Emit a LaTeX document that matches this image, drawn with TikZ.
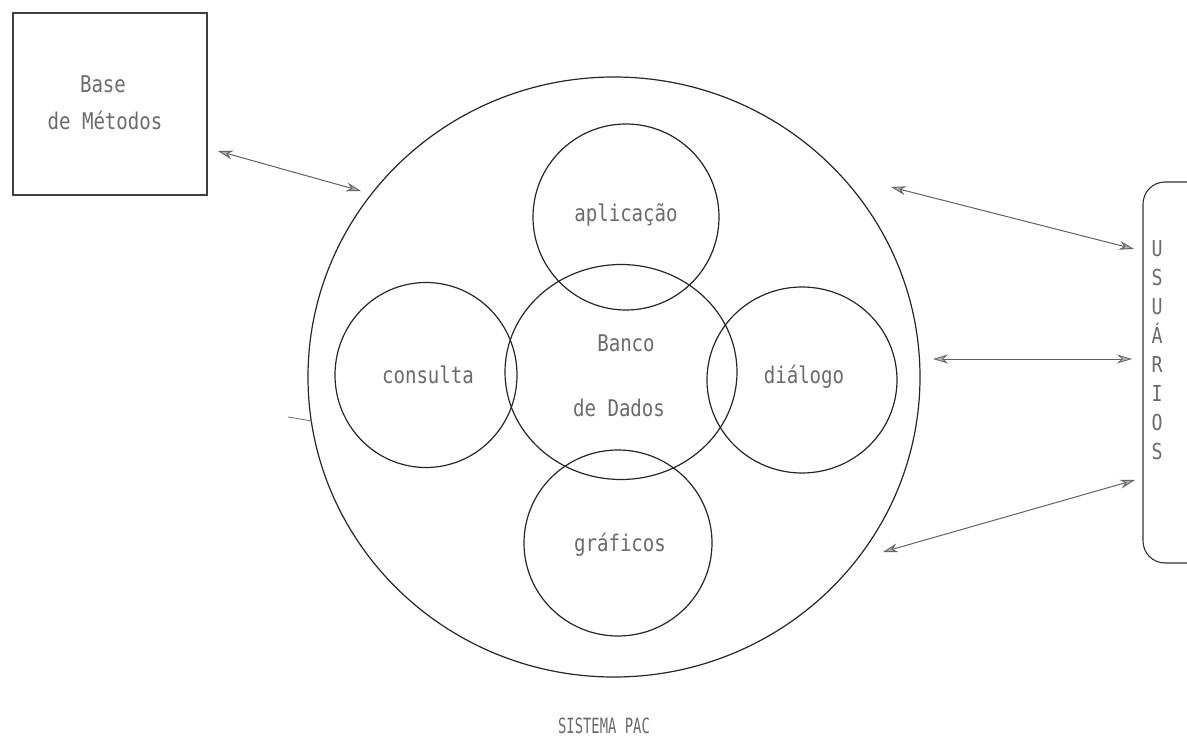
\documentclass[tikz,border=0pt]{standalone}
\usepackage{fontspec}
\newfontfamily\dotfont[FakeStretch=0.83]{DejaVu Sans Mono}
\newfontfamily\dotfontnarrow[FakeStretch=0.66]{DejaVu Sans Mono}
\usetikzlibrary{arrows.meta,shapes.geometric}
\begin{document}
\begin{tikzpicture}[x=1pt,y=-1pt,
  lbl/.style={font=\dotfont\fontsize{23}{28}\selectfont, text=black!58, inner sep=0pt},
  ring/.style={draw=black!85, line width=1.2pt, ellipse, inner sep=0pt},
  link/.style={draw=black!62, line width=1pt,
    {Stealth[length=15pt,width=9pt,fill=black!30,color=black!60]}-{Stealth[length=15pt,width=9pt,fill=black!30,color=black!60]}}]
\useasboundingbox (0,0) rectangle (1187,741);
\clip (0,0) rectangle (1187,741);

% method base
\node[draw=black!75, line width=1.1pt, minimum width=194pt, minimum height=182pt] (base) at (110,104) {};
\node[lbl] (basetxt1) at (103,84) {Base};
\node[lbl] (basetxt2) at (105,120) {de Métodos};

% system circle and its parts
\node[ring, minimum width=612pt, minimum height=600pt] (pac) at (614,377) {};
\node[ring, minimum width=232pt, minimum height=215pt] (bd) at (621,372) {};
\node[ring, minimum width=186pt, minimum height=186pt] (apl) at (626,217) {};
\node[ring, minimum width=182pt, minimum height=185pt] (cons) at (426,375) {};
\node[ring, minimum width=190pt, minimum height=186pt] (dial) at (802,380) {};
\node[ring, minimum width=188pt, minimum height=186pt] (graf) at (618,543) {};

\node[lbl] (aplt) at (626,215) {aplicação};
\node[lbl] (const) at (428,375) {consulta};
\node[lbl] (bdt1) at (626,343) {Banco};
\node[lbl] (bdt2) at (619,408) {de Dados};
\node[lbl] (dialt) at (804,377) {diálogo};
\node[lbl] (graft) at (620,545) {gráficos};

\node[lbl, font=\dotfontnarrow\fontsize{21}{25}\selectfont] (title) at (604,726) {SISTEMA PAC};

% users
\draw[draw=black!80, line width=1.1pt, rounded corners=22pt]
  (1200,182) -- (1143,182) -- (1143,563) -- (1200,563);
\node[lbl, align=center, font=\dotfont\fontsize{22}{29}\selectfont] (usu) at (1157,350)
  {U\\S\\U\\Á\\R\\I\\O\\S};

% connectors
\coordinate (m1) at (218,151);
\coordinate (m2) at (361,191);
\coordinate (u1a) at (891,187);
\coordinate (u1b) at (1134,249);
\coordinate (u2a) at (933,359);
\coordinate (u2b) at (1132,359);
\coordinate (u3a) at (883,552);
\coordinate (u3b) at (1135,480);
\draw[link] (m1) -- (m2);
\draw[link] (u1a) -- (u1b);
\draw[link, line width=0.8pt] (u2a) -- (u2b);
\draw[link] (u3a) -- (u3b);

% short mark on the left of the system circle
\coordinate (s1) at (288,417);
\coordinate (s2) at (312,421);
\draw[black!55, line width=0.9pt] (s1) -- (s2);
\end{tikzpicture}
\end{document}
